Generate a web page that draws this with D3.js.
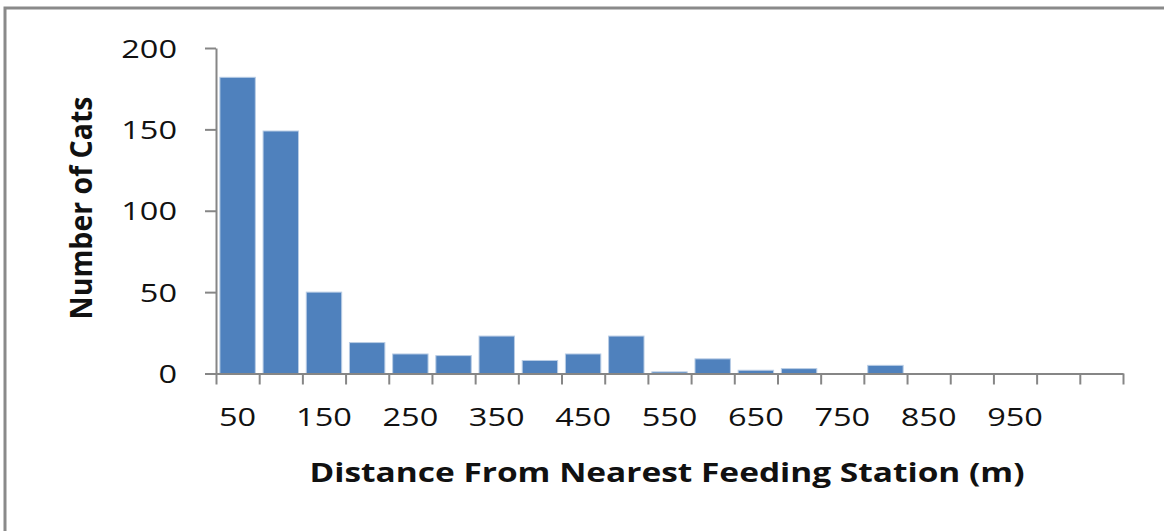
<!DOCTYPE html>
<html lang="en">
<head>
    <meta charset="utf-8">
    <title>Cats by distance from feeding station</title>
    <script type="text/javascript" src="https://d3js.org/d3.v7.min.js"></script>
    <style type="text/css">
        body { margin: 0; background: #fff; }
        text { font-family: "Open Sans", "Lato", sans-serif; fill: #111; }
    </style>
</head>
<body>
<svg width="1164" height="531"></svg>
<script type="text/javascript">

    // data
    const categories = [50, 100, 150, 200, 250, 300, 350, 400, 450, 500, 550,
                        600, 650, 700, 750, 800, 850, 900, 950, 1000, 1050];
    const cats = [182, 149, 50, 19, 12, 11, 23, 8, 12, 23, 1,
                  9, 2, 3, 0, 5, 0, 0, 0, 0, 0];
    const xTickLabels = [50, 150, 250, 350, 450, 550, 650, 750, 850, 950];
    const yTicks = [0, 50, 100, 150, 200];

    const svg = d3.select("svg");
    const plotLeft = 216, plotRight = 1123, plotTop = 48, plotBottom = 373.5;
    const axisColor = "#868686";

    // outer frame
    svg.append("rect")
        .attr("x", 5).attr("y", 8)
        .attr("width", 1200).attr("height", 600)
        .attr("fill", "none")
        .attr("stroke", "#8a8a8a")
        .attr("stroke-width", 3);

    const x = d3.scaleBand()
        .domain(categories)
        .range([plotLeft, plotRight])
        .paddingInner(0.18)
        .paddingOuter(0.09);

    const y = d3.scaleLinear().domain([0, 200]).range([plotBottom, plotTop]);

    // bars
    svg.selectAll("rect.bar")
        .data(categories)
        .join("rect")
        .attr("class", "bar")
        .attr("x", d => x(d))
        .attr("width", x.bandwidth())
        .attr("y", (d, i) => y(cats[i]))
        .attr("height", (d, i) => plotBottom - y(cats[i]))
        .attr("fill", "#4f81bd")
        .attr("stroke", "#b9cde5")
        .attr("stroke-width", 1);

    // y axis
    const yAxis = svg.append("g")
        .attr("transform", `translate(${plotLeft},0)`)
        .call(d3.axisLeft(y).tickValues(yTicks).tickSize(11).tickSizeOuter(0).tickFormat(""));

    // x axis, ticks on the category boundaries
    const xb = d3.scaleLinear().domain([0, categories.length]).range([plotLeft, plotRight]);
    const xAxis = svg.append("g")
        .attr("transform", `translate(0,${plotBottom})`)
        .call(d3.axisBottom(xb).tickValues(d3.range(categories.length + 1)).tickSize(11).tickSizeOuter(0).tickFormat(""));

    [yAxis, xAxis].forEach(g => {
        g.selectAll("path, line").attr("stroke", axisColor).attr("stroke-width", 2);
    });

    // tick labels (stretched a little to match the picture)
    svg.selectAll("text.ylab")
        .data(yTicks)
        .join("text")
        .attr("class", "ylab")
        .attr("transform", d => `translate(177,${y(d) + 9.5}) scale(1.25,1)`)
        .attr("text-anchor", "end")
        .style("font-size", "26px")
        .text(d => d);

    svg.selectAll("text.xlab")
        .data(xTickLabels)
        .join("text")
        .attr("class", "xlab")
        .attr("transform", d => `translate(${x(d) + x.bandwidth() / 2},426) scale(1.25,1)`)
        .attr("text-anchor", "middle")
        .style("font-size", "26px")
        .text(d => d);

    // axis titles
    svg.append("text")
        .attr("x", 667).attr("y", 482)
        .attr("text-anchor", "middle")
        .attr("textLength", 715)
        .attr("lengthAdjust", "spacingAndGlyphs")
        .style("font-size", "27px")
        .style("font-weight", "bold")
        .text("Distance From Nearest Feeding Station (m)");

    svg.append("text")
        .attr("transform", "translate(92,208) rotate(-90)")
        .attr("text-anchor", "middle")
        .attr("textLength", 223)
        .attr("lengthAdjust", "spacingAndGlyphs")
        .style("font-size", "31px")
        .style("font-weight", "bold")
        .text("Number of Cats");

</script>
</body>
</html>
